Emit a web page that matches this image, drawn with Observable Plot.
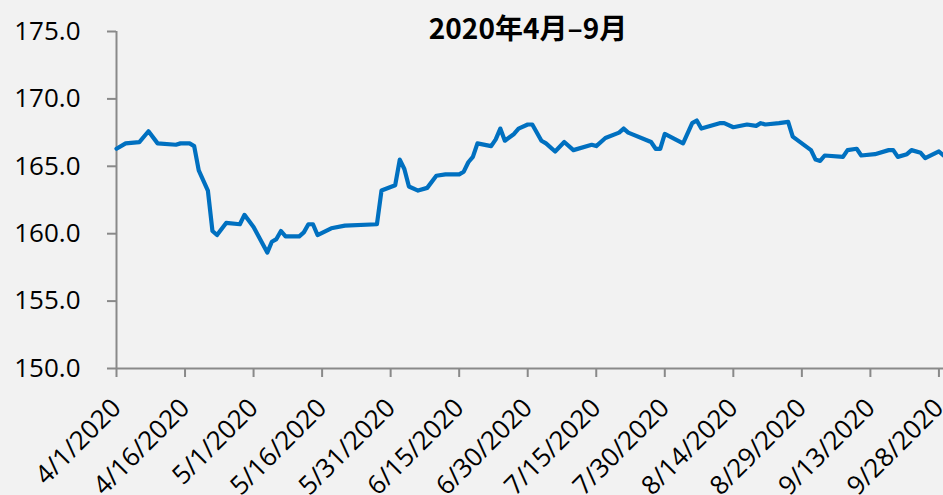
<!DOCTYPE html>
<html>
<head>
<meta charset="utf-8">
<script src="https://cdn.jsdelivr.net/npm/d3@7"></script>
<script src="https://cdn.jsdelivr.net/npm/@observablehq/plot@0.6"></script>
<style>
  html, body { margin: 0; padding: 0; background: #f2f2f2; }
  #chart { width: 943px; height: 495px; overflow: hidden; }
</style>
</head>
<body>
<div id="chart"></div>
<script>
const title = "2020年4月–9月";

const dates = [
  "2020-04-01","2020-04-03","2020-04-06","2020-04-08","2020-04-10","2020-04-14","2020-04-15","2020-04-17","2020-04-18","2020-04-19",
  "2020-04-21","2020-04-22","2020-04-23","2020-04-25","2020-04-28","2020-04-29","2020-05-01","2020-05-04","2020-05-05","2020-05-06",
  "2020-05-07","2020-05-08","2020-05-11","2020-05-12","2020-05-13","2020-05-14","2020-05-15","2020-05-18","2020-05-21","2020-05-28",
  "2020-05-29","2020-06-01","2020-06-02","2020-06-03","2020-06-04","2020-06-06","2020-06-08","2020-06-10","2020-06-12","2020-06-15",
  "2020-06-16","2020-06-17","2020-06-18","2020-06-19","2020-06-22","2020-06-23","2020-06-24","2020-06-25","2020-06-27","2020-06-28",
  "2020-06-30","2020-07-01","2020-07-03","2020-07-04","2020-07-06","2020-07-08","2020-07-10","2020-07-14","2020-07-15","2020-07-17",
  "2020-07-20","2020-07-21","2020-07-22","2020-07-27","2020-07-28","2020-07-29","2020-07-30","2020-08-03","2020-08-05","2020-08-06",
  "2020-08-07","2020-08-11","2020-08-12","2020-08-14","2020-08-17","2020-08-19","2020-08-20","2020-08-21","2020-08-24","2020-08-26",
  "2020-08-27","2020-08-31","2020-09-01","2020-09-02","2020-09-03","2020-09-07","2020-09-08","2020-09-10","2020-09-11","2020-09-14",
  "2020-09-17","2020-09-18","2020-09-19","2020-09-21","2020-09-22","2020-09-24","2020-09-25","2020-09-28","2020-09-29"
];

const values = [
  166.3,166.7,166.8,167.6,166.7,166.6,166.7,166.7,166.5,164.7,
  163.2,160.2,159.9,160.8,160.7,161.4,160.5,158.6,159.4,159.6,
  160.2,159.8,159.8,160.1,160.7,160.7,159.9,160.4,160.6,160.7,
  163.2,163.6,165.5,164.8,163.5,163.2,163.4,164.3,164.4,164.4,
  164.6,165.3,165.7,166.7,166.5,167.0,167.8,166.9,167.4,167.8,
  168.1,168.1,166.9,166.7,166.1,166.8,166.2,166.6,166.5,167.1,
  167.5,167.8,167.5,166.8,166.3,166.3,167.4,166.7,168.2,168.4,
  167.8,168.2,168.2,167.9,168.1,168.0,168.2,168.1,168.2,168.3,
  167.2,166.2,165.5,165.4,165.8,165.7,166.2,166.3,165.8,165.9,
  166.2,166.2,165.7,165.9,166.2,166.0,165.6,166.1,165.8
];

const xTickDates = ["2020-04-01","2020-04-16","2020-05-01","2020-05-16","2020-05-31","2020-06-15","2020-06-30","2020-07-15","2020-07-30","2020-08-14","2020-08-29","2020-09-13","2020-09-28"];
const xTickLabels = ["4/1/2020","4/16/2020","5/1/2020","5/16/2020","5/31/2020","6/15/2020","6/30/2020","7/15/2020","7/30/2020","8/14/2020","8/29/2020","9/13/2020","9/28/2020"];
const yTicks = [150, 155, 160, 165, 170, 175];

const data = dates.map((d, i) => ({date: new Date(d), value: values[i]}));
const xTicks = xTickDates.map((d, i) => ({date: new Date(d), label: xTickLabels[i], base: 150}));

const axisColor = "#898989";
const font = "'Open Sans', 'Noto Sans', sans-serif";

const chart = Plot.plot({
  width: 943,
  height: 495,
  marginLeft: 116,
  marginRight: 0,
  marginTop: 31,
  marginBottom: 127,
  style: {background: "#f2f2f2", fontFamily: font, color: "#000", overflow: "visible"},
  x: {type: "utc", domain: [new Date("2020-04-01"), new Date("2020-09-29")], axis: null},
  y: {type: "linear", domain: [150, 175], axis: null},
  marks: [
    Plot.ruleY([150], {stroke: axisColor, strokeWidth: 2}),
    Plot.ruleX([new Date("2020-04-01")], {stroke: axisColor, strokeWidth: 2}),
    Plot.axisX({ticks: xTicks.map(d => d.date), tickSize: 9, tickFormat: () => "", stroke: axisColor, strokeWidth: 2, strokeOpacity: 1, label: null}),
    Plot.axisY({ticks: yTicks, tickFormat: d3.format(".1f"), tickSize: 9, tickPadding: 27, stroke: axisColor, strokeWidth: 2, strokeOpacity: 1, fontSize: 26, fill: "#000", fontFamily: font, label: null}),
    Plot.text(xTicks, {x: "date", y: "base", text: "label", rotate: -45, textAnchor: "end", lineAnchor: "bottom", dx: 6, dy: 41, fontSize: 26, fill: "#000", fontFamily: font}),
    Plot.line(data, {x: "date", y: "value", stroke: "#0070c0", strokeWidth: 4.2, strokeLinejoin: "round", strokeLinecap: "round"}),
    Plot.text([title], {frameAnchor: "top", dx: -2, dy: -1, lineAnchor: "middle", fontSize: 28, fontWeight: "bold", fill: "#000", fontFamily: "'Noto Sans CJK SC', sans-serif"})
  ]
});
document.getElementById("chart").appendChild(chart);
</script>
</body>
</html>
